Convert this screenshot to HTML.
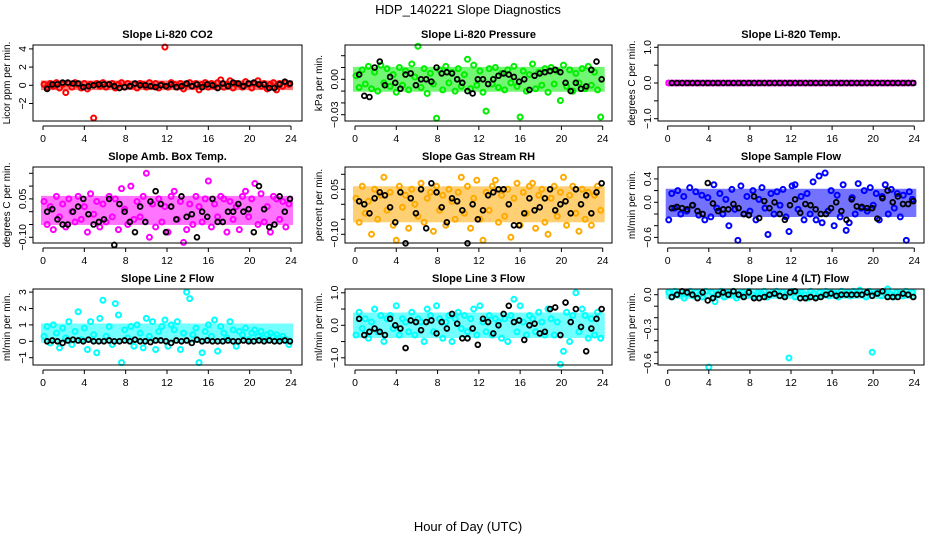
<!DOCTYPE html>
<html><head><meta charset="utf-8">
<style>
html,body{margin:0;padding:0;background:#fff;}
svg text{font-family:"Liberation Sans",sans-serif;fill:#000;}
</style></head>
<body>
<svg id="chart" width="936" height="540" viewBox="0 0 936 540" xmlns="http://www.w3.org/2000/svg">
<defs>
<pattern id="speck" width="3" height="3" patternUnits="userSpaceOnUse"><rect width="3" height="3" fill="#fff" fill-opacity="0"/><rect width="2" height="2" fill="#fff"/></pattern>
</defs>
<text x="468" y="14" font-size="13" text-anchor="middle">HDP_140221  Slope Diagnostics</text>
<text x="468" y="531" font-size="13" text-anchor="middle">Hour of Day (UTC)</text>
</svg>
<script>
const xTicks=[0,4,8,12,16,20,24];
const c1=[0.1,-0.2,0.2,-0.1,0.3,-0.3,0.1,-0.8,0.2,-0.2,0.3,0.1,-0.3,0.2,-0.4,0.1,-3.6,0.2,-0.1,0.3,-0.2,0.1,0.2,-0.3,0.1,0.3,-0.2,0.2,-0.1,0.1,-0.3,0.2,0.1,-0.2,0.3,-0.1,0.2,-0.3,0.1,4.2,-0.2,0.3,0.1,-0.2,0.2,-0.4,0.1,0.3,-0.1,0.2,-0.5,0.1,0.3,-0.2,0.2,-0.1,0.3,0.6,-0.2,0.1,0.5,-0.3,0.2,0.1,-0.2,0.4,0.1,-0.3,0.2,0.5,-0.1,0.2,-0.4,0.1,0.3,-0.5,0.2,-0.1,0.3,0.1];
const k1=[-0.4,0.1,0.1,0.3,0.3,0.2,0.2,-0.2,-0.1,0,0.1,0.1,0.1,-0.1,-0.3,-0.2,-0.1,0.2,0,0,-0.1,-0.2,0,-0.1,0.1,-0.2,-0.1,0.2,-0.1,0.1,-0.2,0.1,0,-0.3,0.2,-0.1,0.3,0.2,-0.1,0.2,0.3,0.1,0.1,-0.3,-0.3,0.1,0.4,0.2];
const c2=[0.003,-0.007,0.008,-0.004,0.011,-0.008,0.006,-0.01,0.012,-0.003,0.009,-0.006,0.004,-0.011,0.01,-0.005,0.007,-0.009,0.013,0.002,0.028,-0.007,0.009,-0.012,0.005,-0.004,-0.033,0.008,-0.009,0.011,-0.003,0.006,-0.01,0.009,-0.006,0.004,0.017,-0.008,0.012,-0.005,0.007,-0.011,-0.027,0.009,-0.004,0.01,-0.007,0.005,-0.009,0.008,-0.003,0.011,-0.006,-0.032,0.007,-0.01,0.004,0.013,-0.008,0.006,-0.005,0.009,-0.011,0.01,-0.004,0.007,-0.018,0.012,-0.006,0.008,-0.01,0.005,-0.003,0.009,-0.008,0.011,-0.005,0.006,-0.009,-0.032];
const k2=[0.004,-0.014,-0.015,0.01,0.015,-0.005,0.002,-0.003,-0.008,0.004,0.005,-0.005,0,0,-0.002,0.01,0.005,0.006,0.005,0,-0.003,-0.01,-0.012,0,0,-0.004,0,0.003,0.005,0.004,0.002,-0.002,0,-0.009,0.003,0.005,0.006,0.007,0.008,0.006,-0.003,-0.01,-0.003,-0.008,-0.006,0.008,0.015,0];
const c3=[0,0,0,0,0,0,0,0,0,0,0,0,0,0,0,0,0,0,0,0,0,0,0,0,0,0,0,0,0,0,0,0,0,0,0,0,0,0,0,0,0,0,0,0,0,0,0,0,0,0,0,0,0,0,0,0,0,0,0,0,0,0,0,0,0,0,0,0,0,0,0,0];
const k3=[0,0,0,0,0,0,0,0,0,0,0,0,0,0,0,0,0,0,0,0,0,0,0,0,0,0,0,0,0,0,0,0,0,0,0,0,0,0,0,0,0,0,0,0,0,0,0,0];
const c4=[0.04,-0.05,0.02,-0.07,0.06,-0.02,0.03,-0.06,0.05,0.0,-0.04,0.06,-0.03,0.02,-0.08,0.07,-0.01,0.04,-0.06,0.03,-0.04,0.06,-0.02,0.05,-0.07,0.09,0.01,-0.05,0.1,-0.03,0.04,-0.02,0.06,0.15,-0.1,0.03,-0.06,0.05,-0.04,0.02,-0.08,0.06,0.08,-0.03,0.04,-0.12,-0.07,0.03,-0.05,0.06,0.02,-0.04,0.05,0.12,-0.06,0.03,-0.02,0.06,0.05,-0.08,0.04,-0.03,0.02,-0.07,0.06,0.08,-0.02,0.05,0.11,-0.05,0.07,-0.04,0.02,-0.08,0.06,0.05,-0.03,0.04,-0.06,0.03];
const k4=[0.0,0.01,-0.03,-0.05,-0.05,0.0,0.02,0.05,-0.01,-0.05,-0.04,-0.03,0.05,-0.13,0.03,0.0,-0.04,-0.08,0.02,-0.04,0.04,0.08,0.03,-0.08,0.02,-0.03,0.06,-0.02,-0.01,-0.1,0.0,-0.02,0.05,-0.04,-0.04,0.0,0.0,0.03,0.0,0.01,-0.08,0.1,0.01,-0.06,-0.05,0.06,0.0,0.05];
const c5=[0.02,-0.06,0.06,-0.03,0.01,-0.1,0.05,-0.05,0.03,0.09,-0.02,0.04,-0.07,-0.12,0.06,-0.01,0.03,-0.08,0.05,0.0,-0.04,0.07,-0.06,0.02,0.04,-0.09,0.06,-0.02,0.03,-0.07,0.05,0.01,-0.05,0.04,0.09,-0.03,0.06,-0.08,0.02,0.08,-0.05,-0.12,0.04,-0.02,0.06,0.08,-0.06,0.03,-0.04,0.05,-0.11,0.02,0.07,-0.07,0.04,-0.03,0.06,0.07,-0.08,0.03,0.05,-0.06,-0.1,0.02,0.06,-0.04,0.04,0.09,-0.07,0.03,0.06,-0.03,-0.09,0.05,-0.05,0.04,-0.07,0.03,0.06,-0.02];
const k5=[0.01,0.0,-0.03,0.02,0.04,0.03,-0.01,-0.06,0.04,-0.13,0.02,-0.03,0.05,-0.08,0.07,0.04,-0.01,-0.06,0.02,0.01,-0.02,-0.13,0.0,-0.05,-0.02,0.03,0.04,0.05,0.05,0.0,-0.07,-0.07,-0.03,0.02,-0.02,-0.01,0.02,0.05,-0.02,0.0,0.01,-0.03,0.05,0.0,0.03,-0.03,0.04,0.07];
const c6=[-0.3,0.15,-0.1,0.2,-0.2,0.1,-0.15,0.25,-0.05,0.18,-0.22,0.12,-0.3,0.08,-0.25,0.3,-0.1,0.15,-0.2,0.05,-0.4,0.22,-0.12,-0.65,0.28,-0.2,0.1,-0.15,0.2,-0.3,0.05,0.25,-0.1,-0.55,0.15,-0.2,0.18,-0.05,0.22,-0.25,-0.5,0.28,0.3,-0.12,0.1,-0.3,0.15,-0.2,0.35,-0.3,0.45,-0.35,0.5,-0.15,0.2,-0.4,0.12,-0.25,0.3,-0.48,-0.35,0.08,-0.2,0.32,-0.1,0.2,-0.15,0.25,-0.05,0.15,-0.3,0.1,0.3,-0.2,0.22,-0.1,0.15,-0.25,0.12,-0.65,0.18,0.05];
const k6=[-0.1,-0.08,-0.1,-0.12,-0.05,-0.15,-0.2,0.33,-0.02,-0.15,-0.12,-0.12,-0.03,-0.1,-0.2,-0.22,0.1,-0.27,0.02,-0.1,0.0,-0.2,-0.3,-0.05,0.05,-0.18,-0.03,-0.05,-0.12,-0.2,-0.2,-0.1,0.0,-0.15,-0.3,0.05,-0.07,-0.08,-0.1,-0.1,-0.28,0.07,0.2,0.0,0.1,-0.03,-0.03,0.02];
const c7=[0.3,0.9,-0.1,1.0,0.5,-0.4,0.8,0.2,1.2,-0.2,0.6,1.8,0.1,0.8,-0.5,1.2,0.4,-0.7,1.4,2.5,0.3,0.9,-0.2,2.3,1.6,-1.3,0.7,0.2,0.9,-0.3,1.0,0.5,-0.4,1.4,0.3,1.2,-0.5,0.6,0.9,1.3,-0.3,1.0,0.7,1.2,-0.5,0.5,3.0,2.6,0.4,0.8,-1.3,-0.7,0.6,1.0,0.3,1.3,-0.6,0.9,0.5,0.2,1.2,0.7,-0.3,0.6,0.4,0.8,0.1,0.5,0.7,0.3,0.6,0.2,0.4,0.5,0.3,0.4,0.2,0.3,0.1,-0.2];
const k7=[0.0,0.05,0.0,-0.1,0.05,0.1,0.05,0.0,0.1,0.0,0.0,0.0,0.05,0.0,0.0,0.05,0.0,0.1,0.0,0.0,-0.05,0.05,0.05,0.0,-0.1,0.05,0.0,0.05,-0.1,0.1,0.0,0.05,0.0,0.0,0.0,0.05,0.0,0.0,0.05,0.0,0.0,0.05,0.0,0.05,0.0,0.0,0.05,0.0];
const c8=[-0.3,0.4,-0.1,0.2,-0.4,0.1,0.5,-0.2,0.3,-0.5,0.2,0.3,-0.1,0.6,-0.3,0.2,0.1,-0.2,0.4,-0.3,0.2,0.1,-0.5,0.5,0.3,-0.2,0.6,0.2,-0.4,0.1,0.3,-0.5,0.2,0.4,-0.1,0.3,-0.2,0.2,0.5,-0.3,0.6,0.1,-0.2,0.3,-0.3,0.2,0.1,-0.4,0.2,-0.5,0.3,0.8,-0.2,0.6,0.1,-0.3,0.3,0.2,-0.2,0.4,0.1,-0.3,0.5,0.2,-0.3,0.1,-1.2,-0.8,0.4,-0.5,0.3,1.0,-0.2,0.5,0.3,-0.4,0.2,-0.3,0.4,-0.4];
const k8=[0.2,-0.3,-0.2,-0.1,-0.2,-0.3,0.2,0.0,-0.1,-0.7,0.15,0.1,-0.15,0.1,0.15,-0.25,0.1,-0.1,0.35,0.05,-0.4,-0.4,-0.1,-0.6,0.2,0.1,-0.25,0.0,0.35,0.6,0.1,0.15,-0.45,0.0,0.05,-0.25,-0.2,0.5,0.55,-0.3,0.7,0.1,0.5,-0.05,-0.8,-0.1,0.2,0.5];
const c9=[0.02,-0.02,0.03,0.0,0.02,-0.03,0.01,0.03,-0.01,0.02,0.0,-0.02,0.03,-0.63,0.02,-0.06,0.01,0.03,-0.02,0.02,0.0,0.03,-0.03,0.01,0.02,-0.01,0.03,0.0,-0.02,0.02,0.01,0.03,-0.02,0.0,0.02,0.03,-0.01,0.02,0.0,-0.55,0.03,-0.02,0.01,0.02,0.0,-0.03,0.03,0.01,-0.02,0.02,0.0,0.03,-0.01,0.02,0.01,-0.02,0.03,0.0,0.02,-0.01,0.03,0.02,0.04,0.0,-0.02,0.03,-0.5,0.01,0.02,-0.01,0.03,0.05,0.0,-0.02,0.02,0.01,-0.01,0.03,0.0,0.02];
const k9=[-0.02,0.0,0.03,0.02,0.0,-0.03,0.02,-0.05,-0.03,0.0,0.02,0.0,0.03,0.0,-0.02,0.02,-0.03,-0.03,-0.02,0.0,0.01,-0.01,-0.02,0.02,0.03,-0.03,-0.03,-0.02,-0.03,-0.02,0.0,0.01,-0.01,0.0,0.0,0.0,0.0,0.0,0.02,-0.01,0.01,0.03,-0.02,-0.02,-0.02,0.01,0.0,-0.02];

const titles=["Slope Li-820 CO2","Slope Li-820 Pressure","Slope Li-820 Temp.","Slope Amb. Box Temp.","Slope Gas Stream RH","Slope Sample Flow","Slope Line 2 Flow","Slope Line 3 Flow","Slope Line 4 (LT) Flow"];
const yTitles=["Licor ppm per min.","kPa per min.","degrees C per min.","degrees C per min.","percent per min.","ml/min per min.","ml/min per min.","ml/min per min.","ml/min per min."];
const yTicks1=[-2,0,2,4], yLab1=["\u22122","0","2","4"];
const yTicks2=[0.02,0.01,0,-0.01,-0.02,-0.03], yLab2=["","","0.00","","","\u22120.03"];
const yTicks3=[1,0.5,0,-0.5,-1], yLab3=["1.0","","0.0","","\u22121.0"];
const yTicks4=[0.15,0.1,0.05,0,-0.05,-0.1], yLab4=["","","0.05","","","\u22120.10"];
const yTicks5=[0.1,0.05,0,-0.05,-0.1], yLab5=["","0.05","","","\u22120.10"];
const yTicks6=[0.4,0.2,0,-0.2,-0.4,-0.6], yLab6=["0.4","","0.0","","","\u22120.6"];
const yTicks7=[3,2,1,0,-1], yLab7=["3","2","1","0","\u22121"];
const yTicks8=[1,0.5,0,-0.5,-1], yLab8=["1.0","","0.0","","\u22121.0"];
const yTicks9=[0,-0.1,-0.2,-0.3,-0.4,-0.5,-0.6], yLab9=["0.0","","","\u22120.3","","","\u22120.6"];

const NS="http://www.w3.org/2000/svg";
const svg=document.getElementById('chart');
function mk(tag,attrs,parent){const e=document.createElementNS(NS,tag);for(const k in attrs)e.setAttribute(k,attrs[k]);(parent||svg).appendChild(e);return e;}

const cols=[{l:33,r:302,x0:43,x24:291},{l:345,r:612,x0:355,x24:602.7},{l:658,r:924,x0:667.7,x24:914.3}];
const rows=[{t:45,b:121},{t:167,b:243},{t:289,b:365}];
const panels=[
 {c:c1,k:k1,col:"#ff0000",p0:85.3,s:9.1,yt:yTicks1,yl:yLab1,id:"co2"},
 {c:c2,k:k2,col:"#00ee00",p0:79.3,s:1180,yt:yTicks2,yl:yLab2,id:"pressure"},
 {c:c3,k:k3,col:"#ff00ff",p0:83,s:35.7,yt:yTicks3,yl:yLab3,id:"licor-temp"},
 {c:c4,k:k4,col:"#ff00ff",p0:211.7,s:256,yt:yTicks4,yl:yLab4,id:"box-temp"},
 {c:c5,k:k5,col:"#ffaa00",p0:204.3,s:300,yt:yTicks5,yl:yLab5,id:"rh"},
 {c:c6,k:k6,col:"#0000ff",p0:202.3,s:58.5,yt:yTicks6,yl:yLab6,id:"sample-flow"},
 {c:c7,k:k7,col:"#00ffff",p0:341.3,s:16.4,yt:yTicks7,yl:yLab7,id:"line2-flow"},
 {c:c8,k:k8,col:"#00ffff",p0:325.3,s:32.5,yt:yTicks8,yl:yLab8,id:"line3-flow"},
 {c:c9,k:k9,col:"#00ffff",p0:294.7,s:115,yt:yTicks9,yl:yLab9,id:"line4-flow"}
];

panels.forEach((p,i)=>{
  const C=cols[i%3], R=rows[Math.floor(i/3)];
  const xs=h=>C.x0+(C.x24-C.x0)*h/24;
  const ys=v=>p.p0-v*p.s;
  const g=mk('g',{});
  
  
  const cx=(C.l+C.r)/2, cy=(R.t+R.b)/2;
  const t=mk('text',{x:cx,y:R.t-7,'font-size':11,'font-weight':'bold','text-anchor':'middle'},g);
  t.textContent=titles[i];
  
  
  const yt=mk('text',{x:0,y:0,'font-size':10,'text-anchor':'middle',transform:`translate(${C.l-23},${cy}) rotate(-90)`},g);
  yt.textContent=yTitles[i];
  
  
  const sorted=p.c.slice().sort((a,b)=>a-b);
  const q=f=>sorted[Math.floor(f*(sorted.length-1))];
  const lo=q(0.25), hi=q(0.75);
  const band=mk('rect',{x:xs(0)-2,y:ys(hi)-3,width:xs(24)-xs(0)+4,height:Math.max(ys(lo)-ys(hi),0)+6,fill:p.col,opacity:0.55},g);
  
  
  p.c.forEach((v,j)=>{
    const h=j*24/p.c.length+0.1;
    const e=mk('circle',{cx:xs(h),cy:ys(v),r:2.5,fill:'none',stroke:p.col,'stroke-width':2},g);
    
    
  });
  p.k.forEach((v,j)=>{
    const h=(j+1)*0.5-0.1;
    const e=mk('circle',{cx:xs(h),cy:ys(v),r:2.4,fill:'none',stroke:'#000','stroke-width':1.8},g);
    
    
  });
  const box=mk('rect',{x:C.l,y:R.t,width:C.r-C.l,height:R.b-R.t,fill:'none',stroke:'#000','stroke-width':1},g);
  
  
  const ax=mk('line',{x1:xs(0),x2:xs(24),y1:R.b+5,y2:R.b+5,stroke:'#000'},g);
  
  
  xTicks.forEach(h=>{
    mk('line',{x1:xs(h),x2:xs(h),y1:R.b+5,y2:R.b+9,stroke:'#000'},g);
    const l=mk('text',{x:xs(h),y:R.b+21,'font-size':10.5,'text-anchor':'middle'},g);
    l.textContent=h;
    
    
  });
  p.yt.forEach((v,j)=>{
    mk('line',{x1:C.l-4,x2:C.l,y1:ys(v),y2:ys(v),stroke:'#000'},g);
    if(p.yl[j]){
      const l=mk('text',{x:0,y:0,'font-size':10.5,'text-anchor':'middle',transform:`translate(${C.l-7},${ys(v)}) rotate(-90)`},g);
      l.textContent=p.yl[j];
      
      
    }
  });
});
</script>
</body></html>
